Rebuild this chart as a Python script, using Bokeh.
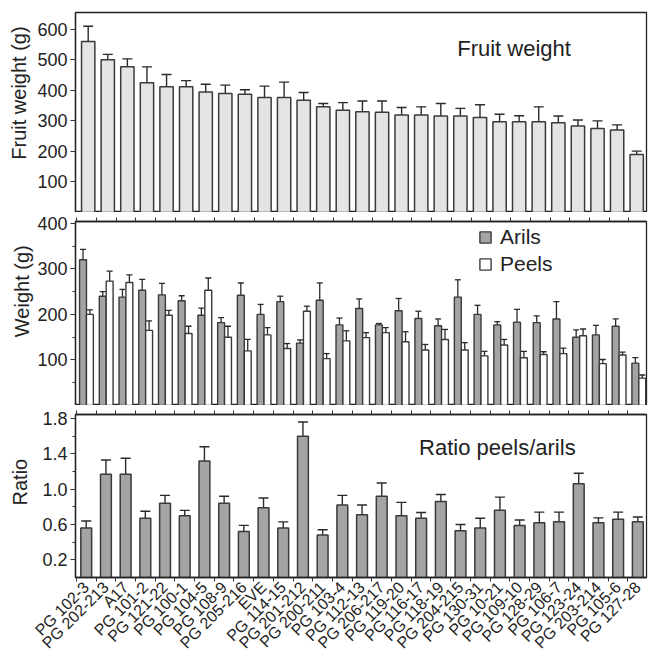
import math
from bokeh.plotting import figure
from bokeh.layouts import column
from bokeh.models import (ColumnDataSource, Whisker, TeeHead, FixedTicker, Label,
                          Legend, LegendItem, NumeralTickFormatter, Range1d, LinearAxis)
from bokeh.embed import file_html
from bokeh.resources import INLINE

categories = ["PG 102-3", "PG 202-213", "A17", "PG 101-2", "PG 121-22", "PG 100-1", "PG 104-5",
              "PG 108-9", "PG 205-216", "EVE", "PG 114-15", "PG 201-212", "PG 200-211", "PG 103-4",
              "PG 112-13", "PG 206-217", "PG 119-20", "PG 116-17", "PG 118-19", "PG 204-215",
              "PG 130-31", "PG 10-21", "PG 109-10", "PG 128-29", "PG 106-7", "PG 123-24",
              "PG 203-214", "PG 105-6", "PG 127-28"]

fruit_weight = [560, 500, 477, 425, 412, 412, 395, 390, 387, 377, 377, 368, 346, 335, 330, 328,
                319, 319, 316, 316, 311, 297, 297, 297, 294, 283, 275, 270, 190]
fruit_err = [50, 18, 26, 52, 40, 20, 25, 27, 15, 37, 50, 25, 11, 25, 35, 37, 25, 27, 41, 25, 42,
             25, 20, 49, 22, 20, 25, 17, 11]

arils = [320, 240, 238, 253, 243, 230, 198, 182, 242, 200, 228, 137, 231, 177, 213, 177, 208, 191,
         175, 238, 200, 177, 183, 182, 190, 150, 155, 174, 93]
arils_err = [23, 10, 17, 24, 25, 11, 16, 11, 27, 22, 12, 7, 38, 15, 21, 3, 27, 16, 15, 38, 20, 7,
             28, 15, 38, 16, 21, 16, 12]
peels = [200, 273, 270, 165, 198, 158, 253, 150, 120, 155, 125, 207, 103, 142, 149, 160, 140, 122,
         145, 122, 109, 133, 105, 112, 114, 153, 92, 111, 60]
peels_err = [10, 22, 17, 21, 11, 16, 27, 24, 25, 16, 11, 11, 11, 22, 11, 11, 22, 12, 22, 16, 10,
             12, 14, 6, 12, 15, 9, 6, 7]

ratio = [0.56, 1.17, 1.17, 0.67, 0.84, 0.70, 1.32, 0.84, 0.52, 0.79, 0.56, 1.60, 0.48, 0.82, 0.71,
         0.92, 0.70, 0.67, 0.86, 0.53, 0.56, 0.76, 0.59, 0.62, 0.63, 1.06, 0.62, 0.66, 0.63]
ratio_err = [0.08, 0.16, 0.18, 0.08, 0.09, 0.06, 0.16, 0.08, 0.07, 0.11, 0.07, 0.16, 0.06, 0.11,
             0.11, 0.15, 0.15, 0.065, 0.08, 0.07, 0.11, 0.15, 0.06, 0.12, 0.11, 0.12, 0.055, 0.08,
             0.055]

fruit_ticks = [100, 200, 300, 400, 500, 600]
weight_ticks = [100, 200, 300, 400]
weight_minor = [50, 150, 250, 350]
ratio_ticks = [0.2, 0.6, 1.0, 1.4, 1.8]
ratio_minor = [0.4, 0.8, 1.2, 1.6]

FONT = "Liberation Sans"
TXT = "#222222"
EDGE = "#3a3a3a"
NB = "\u00a0"
n = len(categories)
idx = list(range(n))
bounds = [i - 0.5 for i in range(n + 1)]


def style_axis(ax):
    ax.axis_line_color = "#222222"
    ax.axis_line_width = 1.3
    ax.major_tick_line_color = "#333333"
    ax.minor_tick_line_color = "#333333"
    ax.major_label_text_font = FONT
    ax.major_label_text_color = TXT


def base_fig(height, x_range, y_range, top, bottom, left, xloc):
    p = figure(width=648, height=height, x_range=x_range, y_range=y_range,
               output_backend="svg", toolbar_location=None, x_axis_location=xloc,
               min_border_top=top, min_border_bottom=bottom, min_border_left=left,
               min_border_right=2)
    p.xgrid.visible = False
    p.ygrid.visible = False
    p.outline_line_color = "#222222"
    p.outline_line_width = 1.3
    p.background_fill_color = "white"
    p.border_fill_color = "white"
    ya = p.yaxis[0]
    style_axis(ya)
    ya.major_label_text_font_size = "18px"
    ya.major_tick_out = 5
    ya.major_tick_in = 0
    ya.minor_tick_out = 3
    ya.minor_tick_in = 0
    ya.major_label_standoff = 3
    ya.axis_label_text_font = FONT
    ya.axis_label_text_font_size = "20px"
    ya.axis_label_text_font_style = "normal"
    ya.axis_label_text_color = TXT
    return p


def add_sep_ticks(p):
    ax = LinearAxis(ticker=FixedTicker(ticks=[], minor_ticks=bounds))
    style_axis(ax)
    ax.major_tick_out = 0
    ax.major_tick_in = 0
    ax.minor_tick_out = 4
    ax.minor_tick_in = 0
    ax.major_label_standoff = 0
    p.add_layout(ax, "above")


# ---------- Panel 1: fruit weight ----------
p1 = base_fig(212, Range1d(-0.648, 28.5), Range1d(0, 655), 12, 0, 75, None)
p1.yaxis.ticker = FixedTicker(ticks=fruit_ticks)
p1.yaxis.axis_label = NB * 7 + "Fruit weight (g)"
p1.yaxis.axis_label_standoff = 4
src1 = ColumnDataSource(dict(x=idx, y=fruit_weight,
                             up=[v + e for v, e in zip(fruit_weight, fruit_err)],
                             lo=[v - e for v, e in zip(fruit_weight, fruit_err)]))
p1.vbar(x="x", top="y", width=0.68, source=src1, fill_color="#e4e4e4",
        line_color=EDGE, line_width=1.5)
p1.add_layout(Whisker(base="x", upper="up", lower="lo", source=src1, line_color="#2a2a2a",
                      line_width=1.4,
                      upper_head=TeeHead(size=10, line_color="#2a2a2a", line_width=1.4),
                      lower_head=TeeHead(size=10, line_color="#2a2a2a", line_width=1.4)))
p1.add_layout(Label(x=21.74, y=538, text="Fruit weight", text_align="center",
                    text_baseline="alphabetic", text_font=FONT, text_font_size="22px",
                    text_color=TXT))

# ---------- Panel 2: arils / peels ----------
p2 = base_fig(193, Range1d(-0.556, 28.39), Range1d(0, 404), 9, 0, 74, None)
p2.yaxis.ticker = FixedTicker(ticks=weight_ticks, minor_ticks=weight_minor)
p2.yaxis.axis_label = NB * 8 + "Weight (g)"
p2.yaxis.axis_label_standoff = 1
add_sep_ticks(p2)
off = 0.175
src_a = ColumnDataSource(dict(x=[i - off for i in idx], y=arils,
                              up=[v + e for v, e in zip(arils, arils_err)],
                              lo=[v - e for v, e in zip(arils, arils_err)]))
src_p = ColumnDataSource(dict(x=[i + off for i in idx], y=peels,
                              up=[v + e for v, e in zip(peels, peels_err)],
                              lo=[v - e for v, e in zip(peels, peels_err)]))
ra = p2.vbar(x="x", top="y", width=0.35, source=src_a, fill_color="#a4a4a4",
             line_color=EDGE, line_width=1.4)
rp = p2.vbar(x="x", top="y", width=0.35, source=src_p, fill_color="white",
             line_color=EDGE, line_width=1.4)
for s in (src_a, src_p):
    p2.add_layout(Whisker(base="x", upper="up", lower="lo", source=s, line_color="#2a2a2a",
                          line_width=1.3,
                          upper_head=TeeHead(size=6, line_color="#2a2a2a", line_width=1.3),
                          lower_head=TeeHead(size=6, line_color="#2a2a2a", line_width=1.3)))
leg = Legend(items=[LegendItem(label="Arils", renderers=[ra]),
                    LegendItem(label="Peels", renderers=[rp])],
             location=(403, 128), glyph_width=14, glyph_height=14, label_standoff=8,
             label_text_font=FONT, label_text_font_size="21px", label_text_color=TXT,
             label_height=27, spacing=0, padding=0, margin=0,
             border_line_alpha=0, background_fill_alpha=0)
p2.add_layout(leg)

# ---------- Panel 3: ratio ----------
p3 = base_fig(255, Range1d(-0.545, 28.44), Range1d(0, 1.845), 9, 62, 73, "below")
p3.yaxis.ticker = FixedTicker(ticks=ratio_ticks, minor_ticks=ratio_minor)
p3.yaxis.formatter = NumeralTickFormatter(format="0.0")
p3.yaxis.axis_label = NB * 5 + "Ratio"
p3.yaxis.axis_label_standoff = 8
xa = p3.below[0]
style_axis(xa)
xa.ticker = FixedTicker(ticks=idx, minor_ticks=bounds)
xa.major_tick_out = 0
xa.major_tick_in = 0
xa.minor_tick_out = 4
xa.minor_tick_in = 0
xa.major_label_overrides = {i: c for i, c in enumerate(categories)}
xa.major_label_orientation = math.pi / 4
xa.major_label_text_font_size = "16px"
xa.major_label_standoff = 3
add_sep_ticks(p3)
src3 = ColumnDataSource(dict(x=idx, y=ratio,
                             up=[v + e for v, e in zip(ratio, ratio_err)],
                             lo=[v - e for v, e in zip(ratio, ratio_err)]))
p3.vbar(x="x", top="y", width=0.55, source=src3, fill_color="#a4a4a4",
        line_color=EDGE, line_width=1.5)
p3.add_layout(Whisker(base="x", upper="up", lower="lo", source=src3, line_color="#2a2a2a",
                      line_width=1.4,
                      upper_head=TeeHead(size=10, line_color="#2a2a2a", line_width=1.4),
                      lower_head=TeeHead(size=10, line_color="#2a2a2a", line_width=1.4)))
p3.add_layout(Label(x=20.87, y=1.47, text="Ratio peels/arils", text_align="center",
                    text_baseline="alphabetic", text_font=FONT, text_font_size="22px",
                    text_color=TXT))

layout = column(p1, p2, p3, spacing=0)
open("out.html", "w").write(file_html(layout, INLINE))
